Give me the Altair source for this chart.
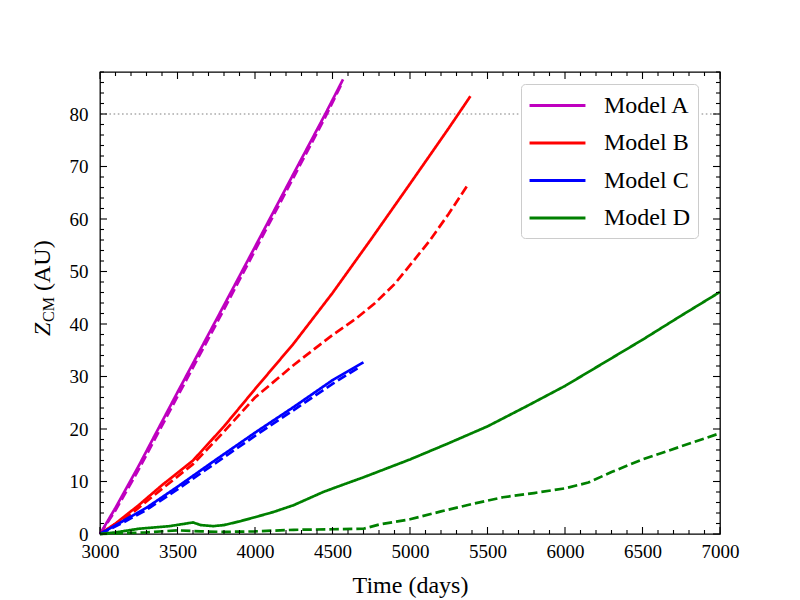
import altair as alt
import pandas as pd

# ---- data ----
models = ["Model A", "Model B", "Model C", "Model D"]
colors = ["#bf00bf", "#ff0000", "#0000ff", "#008000"]

A_solid_t = [3000, 3100, 3250, 3500, 3750, 4000, 4250, 4450, 4568]
A_solid_z = [0, 5.0, 13.0, 27.0, 40.8, 54.7, 68.7, 79.8, 86.6]
A_dash_t = [3000, 3100, 3250, 3500, 3750, 4000, 4250, 4450, 4560]
A_dash_z = [0, 4.5, 12.3, 26.2, 40.0, 54.0, 68.0, 79.2, 85.8]

B_solid_t = [3000, 3100, 3250, 3400, 3600, 3800, 4000, 4250, 4500, 4750, 5000, 5250, 5390]
B_solid_z = [0, 2.0, 5.5, 9.3, 14.0, 20.5, 27.6, 36.3, 45.9, 56.2, 66.7, 77.3, 83.4]
B_dash_t = [3000, 3200, 3400, 3600, 3800, 4000, 4250, 4500, 4650, 4775, 4900, 5000,
            5125, 5250, 5368]
B_dash_z = [0, 3.8, 8.6, 13.3, 19.5, 26.0, 32.2, 37.9, 41.0, 44.0, 47.6, 51.2,
            55.8, 61.0, 66.3]

C_solid_t = [3000, 3150, 3300, 3500, 3750, 4000, 4250, 4500, 4700]
C_solid_z = [0, 2.5, 5.0, 9.0, 14.2, 19.3, 24.2, 29.3, 32.7]
C_dash_t = [3000, 3150, 3300, 3500, 3750, 4000, 4250, 4500, 4680]
C_dash_z = [0, 2.2, 4.6, 8.5, 13.6, 18.7, 23.6, 28.6, 31.9]

D_solid_t = [3000, 3100, 3250, 3450, 3600, 3650, 3730, 3800, 3900, 4000, 4120, 4250,
             4440, 4550, 4700, 4850, 5000, 5250, 5500, 5750, 6000, 6250, 6500, 6750, 7000]
D_solid_z = [0, 0.3, 1.0, 1.5, 2.2, 1.7, 1.5, 1.7, 2.4, 3.2, 4.2, 5.5,
             8.0, 9.2, 10.8, 12.5, 14.2, 17.3, 20.5, 24.3, 28.2, 32.6, 37.0, 41.6, 46.1]
D_dash_t = [3000, 3100, 3300, 3500, 3650, 3800, 4000, 4250, 4500, 4700, 4800, 5000, 5200,
            5400, 5600, 5800, 6000, 6150, 6300, 6500, 6750, 7000]
D_dash_z = [0, 0.1, 0.3, 0.7, 0.5, 0.4, 0.5, 0.8, 0.9, 1.0, 1.8, 2.8, 4.3,
            5.7, 7.0, 7.8, 8.7, 9.8, 11.8, 14.2, 16.7, 19.2]

x_major = [3000, 3500, 4000, 4500, 5000, 5500, 6000, 6500, 7000]
x_minor = [v for v in range(3000, 7001, 100) if v % 500 != 0]
y_major = [0, 10, 20, 30, 40, 50, 60, 70, 80]
y_minor = [v for v in range(0, 89, 2) if v % 10 != 0]
ref_level = 80

series = [
    ("Model A", "solid", A_solid_t, A_solid_z), ("Model A", "dashed", A_dash_t, A_dash_z),
    ("Model B", "solid", B_solid_t, B_solid_z), ("Model B", "dashed", B_dash_t, B_dash_z),
    ("Model C", "solid", C_solid_t, C_solid_z), ("Model C", "dashed", C_dash_t, C_dash_z),
    ("Model D", "solid", D_solid_t, D_solid_z), ("Model D", "dashed", D_dash_t, D_dash_z),
]
rows = []
for m, k, ts, zs in series:
    for i, (t, z) in enumerate(zip(ts, zs)):
        rows.append({"model": m, "kind": k, "series": m + " " + k, "t": t, "z": z, "i": i})
df = pd.DataFrame(rows)

W, H = 620, 462
FONT = "Liberation Serif"

xscale = alt.Scale(domain=[3000, 7000], nice=False, zero=False)
yscale = alt.Scale(domain=[0, 88], nice=False, zero=False)
xaxis = alt.Axis(values=x_major, format="d", title="Time (days)", ticks=False,
                 labelFontSize=19, labelPadding=8, titleFontSize=24, titlePadding=12,
                 labelFont=FONT, titleFont=FONT, domain=False, labelColor="black",
                 titleColor="black", titleFontWeight="normal", labelFlush=False,
                 labelOverlap=False)
yaxis = alt.Axis(values=y_major, format="d", title=None, ticks=False,
                 labelFontSize=19, labelPadding=12, labelFont=FONT, domain=False,
                 labelColor="black", labelFlush=False, labelOverlap=False)
X = alt.X("t:Q", scale=xscale, axis=xaxis)
Y = alt.Y("z:Q", scale=yscale, axis=yaxis)

lines = alt.Chart(df).mark_line(strokeWidth=2.7).encode(
    x=X, y=Y,
    color=alt.Color("model:N", scale=alt.Scale(domain=models, range=colors),
                    legend=alt.Legend(title=None, orient="none", legendX=421, legendY=12,
                                      symbolType="M-2.33,0H2.33", symbolStrokeWidth=3,
                                      symbolSize=576, symbolOffset=15,
                                      labelFont=FONT, labelFontSize=24,
                                      labelColor="black", labelOffset=33, rowPadding=11.5,
                                      padding=8, fillColor="white", strokeColor="#cccccc",
                                      cornerRadius=4)),
    strokeDash=alt.StrokeDash("kind:N", scale=alt.Scale(domain=["solid", "dashed"],
                                                        range=[[1, 0], [9.5, 4]]),
                              legend=None),
    detail="series:N",
    order="i:Q",
)

ref = alt.Chart(pd.DataFrame({"z": [ref_level]})).mark_rule(
    color="#aaaaaa", strokeWidth=1.6, strokeDash=[1.6, 2.6]).encode(y=Y)

dfx_major = pd.DataFrame({"t": x_major})
dfx_minor = pd.DataFrame({"t": x_minor})
dfy_major = pd.DataFrame({"z": y_major})
dfy_minor = pd.DataFrame({"z": y_minor})

def xt(d, y0, y1):
    return alt.Chart(d).mark_rule(color="black", strokeWidth=1.1).encode(
        x=X, y=alt.value(y0), y2=alt.value(y1))

def yt(d, x0, x1):
    return alt.Chart(d).mark_rule(color="black", strokeWidth=1.1).encode(
        y=Y, x=alt.value(x0), x2=alt.value(x1))

ticks = [
    xt(dfx_major, H, H - 7), xt(dfx_major, 0, 7),
    xt(dfx_minor, H, H - 4), xt(dfx_minor, 0, 4),
    yt(dfy_major, 0, 7), yt(dfy_major, W, W - 7),
    yt(dfy_minor, 0, 4), yt(dfy_minor, W, W - 4),
]

one = pd.DataFrame({"a": [0]})
ytitle_z = alt.Chart(one).mark_text(text="Z", font=FONT, fontSize=24, fontStyle="italic",
                                    angle=270, align="left", baseline="alphabetic",
                                    color="black").encode(x=alt.value(-50), y=alt.value(264))
ytitle_cm = alt.Chart(one).mark_text(text="CM", font=FONT, fontSize=16, angle=270,
                                     align="left", baseline="alphabetic",
                                     color="black").encode(x=alt.value(-46), y=alt.value(250))
ytitle_au = alt.Chart(one).mark_text(text="(AU)", font=FONT, fontSize=24, angle=270,
                                     align="left", baseline="alphabetic",
                                     color="black").encode(x=alt.value(-50), y=alt.value(219))

chart = alt.layer(ref, lines, *ticks, ytitle_z, ytitle_cm, ytitle_au).properties(
    width=W, height=H,
    autosize=alt.AutoSizeParams(type="none"),
    padding={"left": 92, "top": 64, "right": 70, "bottom": 76},
).configure_view(stroke="black", strokeWidth=1.3).configure_axis(grid=False)

chart.save("out.html", embed_options={"renderer": "svg", "actions": False})
